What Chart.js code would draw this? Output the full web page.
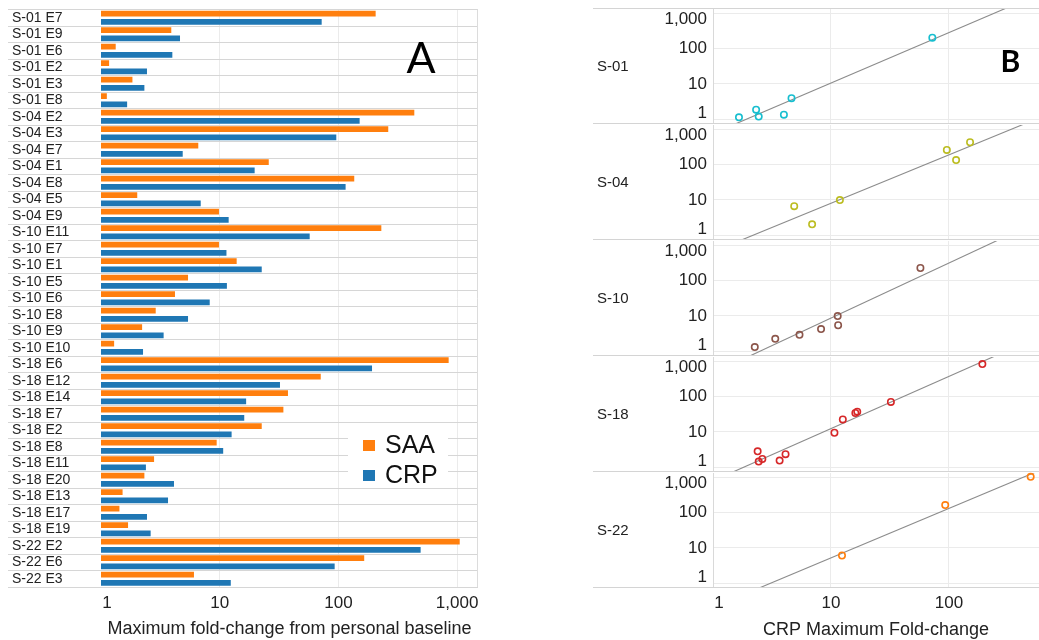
<!DOCTYPE html>
<html><head><meta charset="utf-8">
<script src="https://cdn.jsdelivr.net/npm/chart.js@4.4.1/dist/chart.umd.min.js"></script>
<style>
html,body{margin:0;padding:0;background:#fff;width:1039px;height:640px;overflow:hidden;position:relative;}
canvas{position:absolute;}
</style></head><body>
<canvas id="cA" width="490" height="640" style="left:0;top:0;width:490px;height:640px"></canvas>
<script>
// ---------- DATA ----------
const categories = [
  'S-01 E7','S-01 E9','S-01 E6','S-01 E2','S-01 E3','S-01 E8',
  'S-04 E2','S-04 E3','S-04 E7','S-04 E1','S-04 E8','S-04 E5','S-04 E9',
  'S-10 E11','S-10 E7','S-10 E1','S-10 E5','S-10 E6','S-10 E8','S-10 E9','S-10 E10',
  'S-18 E6','S-18 E12','S-18 E14','S-18 E7','S-18 E2','S-18 E8','S-18 E11','S-18 E20','S-18 E13','S-18 E17','S-18 E19',
  'S-22 E2','S-22 E6','S-22 E3'
];
const saaValues = [
  206, 3.91, 1.33, 1.17, 1.84, 1.12,
  436, 263, 6.6, 25.9, 136, 2.02, 9.86,
  230, 9.86, 13.9, 5.41, 4.2, 2.89, 2.22, 1.29,
  849, 71, 37.6, 34.4, 22.6, 9.43, 2.8, 2.32, 1.52, 1.43, 1.69,
  1052, 165, 6.07
];
const crpValues = [
  72.3, 4.63, 3.99, 2.44, 2.32, 1.66,
  151, 96, 4.88, 19.7, 115, 6.92, 11.9,
  57.3, 11.4, 22.6, 11.5, 8.24, 5.41, 3.37, 2.26,
  192, 32.2, 16.7, 16.1, 12.6, 10.7, 2.39, 4.12, 3.67, 2.44, 2.62,
  493, 93, 12.4
];
const barTickValues = [1, 10, 100, 1000];
const scatterXTickValues = [1, 10, 100];
const scatterYTickValues = [1, 10, 100, 1000];
const subjects = ['S-01', 'S-04', 'S-10', 'S-18', 'S-22'];
const scatterExcluded = ['S-04 E1', 'S-10 E1'];
const legendLabels = ['SAA', 'CRP'];
const titleA = 'Maximum fold-change from personal baseline';
const titleB = 'CRP Maximum Fold-change';

// ---------- STYLE ----------
const FONT = "'Liberation Sans', Arial, Helvetica, sans-serif";
const ORANGE = '#ff7f0e', BLUE = '#1f77b4';
const subjectColors = ['#17becf', '#bcbd22', '#8c564b', '#d62728', '#ff7f0e'];
Chart.defaults.font.family = FONT;
Chart.defaults.color = '#222';
Chart.defaults.animation = false;

function fmt(v) {
  return String(Math.round(Number(v))).replace(/\B(?=(\d{3})+(?!\d))/g, ',');
}
// first x tick label nudged right (as in the reference)
function fmtX(v) { const t = fmt(v); return Number(v) === 1 ? '\u2002\u2009' + t : t; }
function noPad(s) { s.paddingTop = 0; s.paddingBottom = 0; s.paddingLeft = 0; s.paddingRight = 0; }

// ---------- PANEL A ----------
const panelAPlugin = {
  id: 'panelA',
  afterDraw(chart) {
    const {ctx, chartArea} = chart;
    ctx.save();
    ctx.strokeStyle = '#dcdcdc'; ctx.lineWidth = 1;
    ctx.beginPath();
    const xr = Math.round(chartArea.right) - 0.5;
    ctx.moveTo(xr, chartArea.top); ctx.lineTo(xr, chartArea.bottom);
    ctx.stroke();
    ctx.fillStyle = '#fff';
    ctx.fillRect(348, 425, 100, 59);
    const cols = [ORANGE, BLUE];
    const ys = [445.5, 475.5];
    ctx.font = '25px ' + FONT;
    ctx.textBaseline = 'middle'; ctx.textAlign = 'left';
    legendLabels.forEach((l, i) => {
      ctx.fillStyle = cols[i];
      ctx.fillRect(363, ys[i] - 5.5, 12, 11);
      ctx.fillStyle = '#111';
      ctx.fillText(l, 385, ys[i] + 1);
    });
    ctx.font = "43px Lato, 'DejaVu Sans', sans-serif";
    ctx.textAlign = 'center'; ctx.textBaseline = 'alphabetic';
    ctx.fillStyle = '#000';
    ctx.fillText('A', 421, 73);
    ctx.restore();
  }
};

new Chart(document.getElementById('cA'), {
  type: 'bar',
  data: {
    labels: categories,
    datasets: [
      {label: 'SAA', data: saaValues, backgroundColor: ORANGE, borderWidth: 0, categoryPercentage: 1.0, barPercentage: 0.7},
      {label: 'CRP', data: crpValues, backgroundColor: BLUE, borderWidth: 0, categoryPercentage: 1.0, barPercentage: 0.7}
    ]
  },
  options: {
    indexAxis: 'y',
    responsive: false,
    animation: false,
    layout: {autoPadding: false, padding: {left: 12, right: 12, top: 9.5, bottom: 0}},
    plugins: {legend: {display: false}, tooltip: {enabled: false}},
    scales: {
      x: {
        type: 'logarithmic', min: 1, max: 1500,
        afterBuildTicks: s => { s.ticks = barTickValues.map(v => ({value: v})); },
        afterFit: s => { s.height = 53; noPad(s); },
        ticks: {font: {size: 17}, padding: 6, autoSkip: false, maxRotation: 0, color: '#222',
                callback: v => fmtX(v)},
        grid: {color: c => (c.tick && c.tick.value === 1) ? 'rgba(0,0,0,0)' : '#ebebeb', drawTicks: false},
        border: {display: false},
        title: {display: true, text: titleA, font: {size: 18}, padding: 0, color: '#222'}
      },
      y: {
        type: 'category',
        afterFit: s => { s.width = 89; noPad(s); },
        grid: {color: '#d6d6d6', offset: true, tickLength: 93, drawTicks: true},
        border: {display: false},
        ticks: {crossAlign: 'far', font: {size: 14}, padding: 4, autoSkip: false, color: '#222'}
      }
    }
  },
  plugins: [panelAPlugin]
});

// ---------- PANEL B ----------
function fitLogLog(pts) {
  const xs = pts.map(p => Math.log10(p.x)), ys = pts.map(p => Math.log10(p.y));
  const n = xs.length;
  const mx = xs.reduce((a, b) => a + b, 0) / n, my = ys.reduce((a, b) => a + b, 0) / n;
  let sxy = 0, sxx = 0;
  for (let i = 0; i < n; i++) { sxy += (xs[i] - mx) * (ys[i] - my); sxx += (xs[i] - mx) ** 2; }
  const slope = sxy / sxx;
  return {slope, intercept: my - slope * mx};
}

const panelBPlugin = {
  id: 'panelB',
  afterDraw(chart, args, opts) {
    const {ctx, chartArea} = chart;
    ctx.save();
    ctx.strokeStyle = '#d4d4d4'; ctx.lineWidth = 1;
    ctx.beginPath();
    const yb = Math.round(chartArea.bottom) + 0.5;
    ctx.moveTo(13, yb); ctx.lineTo(chart.width, yb);
    if (opts.first) {
      const yt = Math.round(chartArea.top) - 0.5;
      ctx.moveTo(13, yt); ctx.lineTo(chart.width, yt);
    }
    ctx.stroke();
    ctx.fillStyle = '#222';
    ctx.font = '15px ' + FONT;
    ctx.textAlign = 'left'; ctx.textBaseline = 'middle';
    ctx.fillText(opts.label, 17, (chartArea.top + chartArea.bottom) / 2 + 1);
    if (opts.first) {
      ctx.font = "bold 30px Lato, 'DejaVu Sans', sans-serif";
      ctx.textAlign = 'center'; ctx.textBaseline = 'alphabetic';
      ctx.fillStyle = '#000';
      ctx.fillText('B', 430.5, chartArea.top + 63.2);
    }
    ctx.restore();
  }
};

const PANEL_TOP0 = 8.5, PANEL_STEP = 116, PANEL_H = 114, PAD = 6;
subjects.forEach((subj, k) => {
  const isLast = k === subjects.length - 1;
  const cv = document.createElement('canvas');
  const top = PANEL_TOP0 + k * PANEL_STEP - PAD;
  const h = isLast ? (640 - top) : (PANEL_H + 2 * PAD);
  cv.width = 459; cv.height = Math.round(h);
  cv.style.left = '580px'; cv.style.top = top + 'px';
  cv.style.width = '459px'; cv.style.height = Math.round(h) + 'px';
  document.body.appendChild(cv);

  const pts = [];
  categories.forEach((c, i) => {
    if (c.split(' ')[0] === subj && !scatterExcluded.includes(c)) pts.push({x: crpValues[i], y: saaValues[i]});
  });
  const fit = fitLogLog(pts);
  const linePts = [1, 1000].map(x => ({x, y: Math.pow(10, fit.intercept + fit.slope * Math.log10(x))}));

  const xAxis = {
    type: 'logarithmic', min: 1, max: 580,
    afterBuildTicks: s => { s.ticks = scatterXTickValues.map(v => ({value: v})); },
    grid: {color: '#ebebeb', drawTicks: false},
    border: {display: false}
  };
  if (isLast) {
    xAxis.afterFit = s => { s.height = cv.height - PAD - PANEL_H; noPad(s); };
    xAxis.ticks = {font: {size: 17}, padding: 6, autoSkip: false, maxRotation: 0, color: '#222', callback: v => fmtX(v)};
    xAxis.title = {display: true, text: titleB, font: {size: 18}, padding: 0, color: '#222'};
  } else {
    xAxis.afterFit = s => { s.height = 0; noPad(s); };
    xAxis.ticks = {display: false};
  }

  new Chart(cv, {
    type: 'scatter',
    data: {
      datasets: [
        {data: pts, showLine: false, pointRadius: 3.2, pointBorderWidth: 1.6, borderColor: subjectColors[k],
         pointBorderColor: subjectColors[k], pointBackgroundColor: 'rgba(255,255,255,0)', order: 1, clip: 8},
        {data: linePts, showLine: true, pointRadius: 0, borderColor: '#8c8c8c', borderWidth: 1.1, order: 2}
      ]
    },
    options: {
      responsive: false,
      animation: false,
      layout: {autoPadding: false, padding: {left: 0, right: 0, top: PAD, bottom: isLast ? 0 : PAD}},
      plugins: {legend: {display: false}, tooltip: {enabled: false}, panelB: {label: subj, first: k === 0}},
      scales: {
        x: xAxis,
        y: {
          type: 'logarithmic', min: 0.77, max: 1350,
          afterBuildTicks: s => { s.ticks = scatterYTickValues.map(v => ({value: v})); },
          afterFit: s => { s.width = 133; noPad(s); },
          grid: {color: '#ebebeb', drawTicks: false},
          border: {display: true, color: '#d9d9d9', width: 1},
          ticks: {
            font: {size: 17, lineHeight: 0.62}, padding: 6, autoSkip: false, color: '#222',
            callback: v => {
              const t = fmt(v);
              if (Number(v) === 1000) return ['', t];
              if (Number(v) === 1) return [t, ''];
              return t;
            }
          }
        }
      }
    },
    plugins: [panelBPlugin]
  });
});
</script>
</body></html>
